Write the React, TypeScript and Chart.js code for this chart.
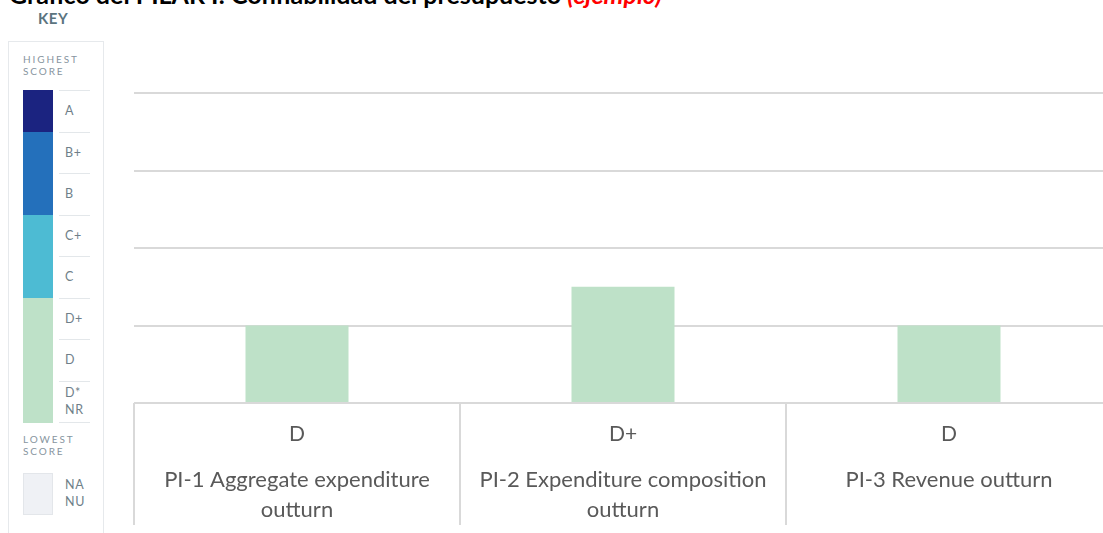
import React, { useEffect, useRef } from "react";
import { Chart, registerables } from "chart.js";

Chart.register(...registerables);

// ---- data ----
const categoryLabels: string[][] = [
  ["PI-1 Aggregate expenditure", "outturn"],
  ["PI-2 Expenditure composition", "outturn"],
  ["PI-3 Revenue outturn"],
];
const scoreLabels: string[] = ["D", "D+", "D"];
// score scale: D=1, D+=1.5, C=2, C+=2.5, B=3, B+=3.5, A=4
const scoreValues: number[] = [1, 1.5, 1];
const yMin = 0;
const yMax = 4;

const keyGrades: string[][] = [["A"], ["B+"], ["B"], ["C+"], ["C"], ["D+"], ["D"], ["D*", "NR"]];
const keyBandColors: string[] = ["#1b2380", "#2470bb", "#2470bb", "#4dbbd3", "#4dbbd3", "#bee1c8", "#bee1c8", "#bee1c8"];

const titleMain = "Gráfico del PILAR I: Confiabilidad del presupuesto ";
const titleNote = "(ejemplo)";

const FONT = "Lato, 'Open Sans', sans-serif";
const GRID = "#d9d9d9";

const separatorPlugin = {
  id: "separators",
  afterDraw(chart: any) {
    const xs = chart.scales.x;
    const ctx = chart.ctx;
    const n = scoreLabels.length;
    const w = xs.width / n;
    ctx.save();
    ctx.strokeStyle = GRID;
    ctx.lineWidth = 2;
    for (let i = 0; i <= n; i++) {
      const x = xs.getPixelForValue(Math.min(i, n - 1)) + (i < n ? -w / 2 : w / 2);
      ctx.beginPath();
      ctx.moveTo(x, chart.chartArea.bottom);
      ctx.lineTo(x, chart.height - 8);
      ctx.stroke();
    }
    ctx.restore();
  },
};

function ChartCanvas() {
  const ref = useRef<HTMLCanvasElement | null>(null);
  useEffect(() => {
    if (!ref.current) return;
    const chart = new Chart(ref.current, {
      type: "bar",
      data: {
        labels: categoryLabels as any,
        datasets: [
          {
            data: scoreValues,
            backgroundColor: "#bee1c8",
            borderWidth: 0,
            categoryPercentage: 1,
            barPercentage: 0.316,
            xAxisID: "x",
            yAxisID: "y",
          },
        ],
      },
      options: {
        animation: false,
        responsive: false,
        devicePixelRatio: 1,
        layout: { padding: { top: 13, left: 10, right: 0, bottom: 0 } },
        plugins: { legend: { display: false }, tooltip: { enabled: false }, title: { display: false } },
        scales: {
          x: {
            type: "category",
            labels: scoreLabels,
            position: "bottom",
            weight: 0,
            offset: true,
            grid: { display: false, drawTicks: false },
            border: { display: false },
            ticks: {
              color: "#595959",
              font: { family: FONT, size: 21 },
              padding: 19,
              autoSkip: false,
              maxRotation: 0,
            },
            afterFit: (s: any) => {
              s.height = 55;
            },
          },
          x2: {
            type: "category",
            position: "bottom",
            weight: 1,
            offset: true,
            grid: { display: false, drawTicks: false },
            border: { display: false },
            ticks: {
              color: "#595959",
              font: { family: FONT, size: 22, lineHeight: 1.36 },
              padding: 7,
              autoSkip: false,
              maxRotation: 0,
            },
            afterFit: (s: any) => {
              s.height = 75;
            },
          },
          y: {
            min: yMin,
            max: yMax,
            ticks: { display: false, stepSize: 1 },
            grid: { color: GRID, lineWidth: 2, drawTicks: false },
            border: { display: false },
            afterFit: (s: any) => {
              s.width = 0;
            },
          },
        },
      },
      plugins: [separatorPlugin],
    });
    return () => chart.destroy();
  }, []);
  return (
    <canvas
      ref={ref}
      width={988}
      height={453}
      style={{ position: "absolute", left: 124, top: 80, width: 988, height: 453 }}
    />
  );
}

export default function App() {
  const smallCaps: React.CSSProperties = {
    position: "absolute",
    left: 23,
    fontFamily: FONT,
    fontSize: 10,
    letterSpacing: 1.9,
    color: "#8795a0",
    lineHeight: "12px",
  };
  const rowH = 41.5;
  return (
    <div
      style={{
        position: "fixed",
        left: 0,
        top: 0,
        width: 1103,
        height: 533,
        overflow: "hidden",
        background: "#fff",
      }}
    >
      <div
        style={{
          position: "absolute",
          left: 9,
          top: -20,
          whiteSpace: "nowrap",
          fontFamily: FONT,
          fontWeight: 700,
          fontSize: 25,
          lineHeight: "28px",
          color: "#000",
        }}
      >
        {titleMain}
        <span style={{ color: "#ff0000", fontStyle: "italic" }}>{titleNote}</span>
      </div>
      <div
        style={{
          position: "absolute",
          left: 38,
          top: 9,
          fontFamily: FONT,
          fontWeight: 700,
          fontSize: 15,
          lineHeight: "18px",
          color: "#5b7480",
          letterSpacing: 0.5,
        }}
      >
        KEY
      </div>
      <div
        style={{
          position: "absolute",
          left: 8,
          top: 41,
          width: 96,
          height: 520,
          border: "1px solid #e6e9ec",
          boxSizing: "border-box",
        }}
      />
      <div style={{ ...smallCaps, top: 53 }}>
        HIGHEST
        <br />
        SCORE
      </div>
      {keyGrades.map((g, i) => (
        <React.Fragment key={i}>
          <div
            style={{
              position: "absolute",
              left: 23,
              top: 90 + i * rowH,
              width: 30,
              height: rowH + 0.5,
              background: keyBandColors[i],
            }}
          />
          <div
            style={{
              position: "absolute",
              left: 59,
              top: 90 + i * rowH,
              width: 31,
              height: 1,
              background: "#e3e7ea",
            }}
          />
          <div
            style={{
              position: "absolute",
              left: 65,
              top: 90 + i * rowH,
              height: rowH,
              display: "flex",
              flexDirection: "column",
              justifyContent: "center",
              fontFamily: FONT,
              fontSize: 12.5,
              letterSpacing: 0.6,
              lineHeight: "17px",
              color: "#6f7f89",
            }}
          >
            {g.map((t, j) => (
              <div key={j}>{t}</div>
            ))}
          </div>
        </React.Fragment>
      ))}
      <div
        style={{
          position: "absolute",
          left: 59,
          top: 90 + 8 * rowH,
          width: 31,
          height: 1,
          background: "#e3e7ea",
        }}
      />
      <div style={{ ...smallCaps, top: 433 }}>
        LOWEST
        <br />
        SCORE
      </div>
      <div
        style={{
          position: "absolute",
          left: 23,
          top: 473,
          width: 30,
          height: 42,
          background: "#eff1f5",
          border: "1px solid #e3e6ea",
          boxSizing: "border-box",
        }}
      />
      <div
        style={{
          position: "absolute",
          left: 65,
          top: 476,
          fontFamily: FONT,
          fontSize: 12.5,
          letterSpacing: 0.6,
          lineHeight: "17px",
          color: "#6f7f89",
        }}
      >
        NA
        <br />
        NU
      </div>
      <ChartCanvas />
    </div>
  );
}
